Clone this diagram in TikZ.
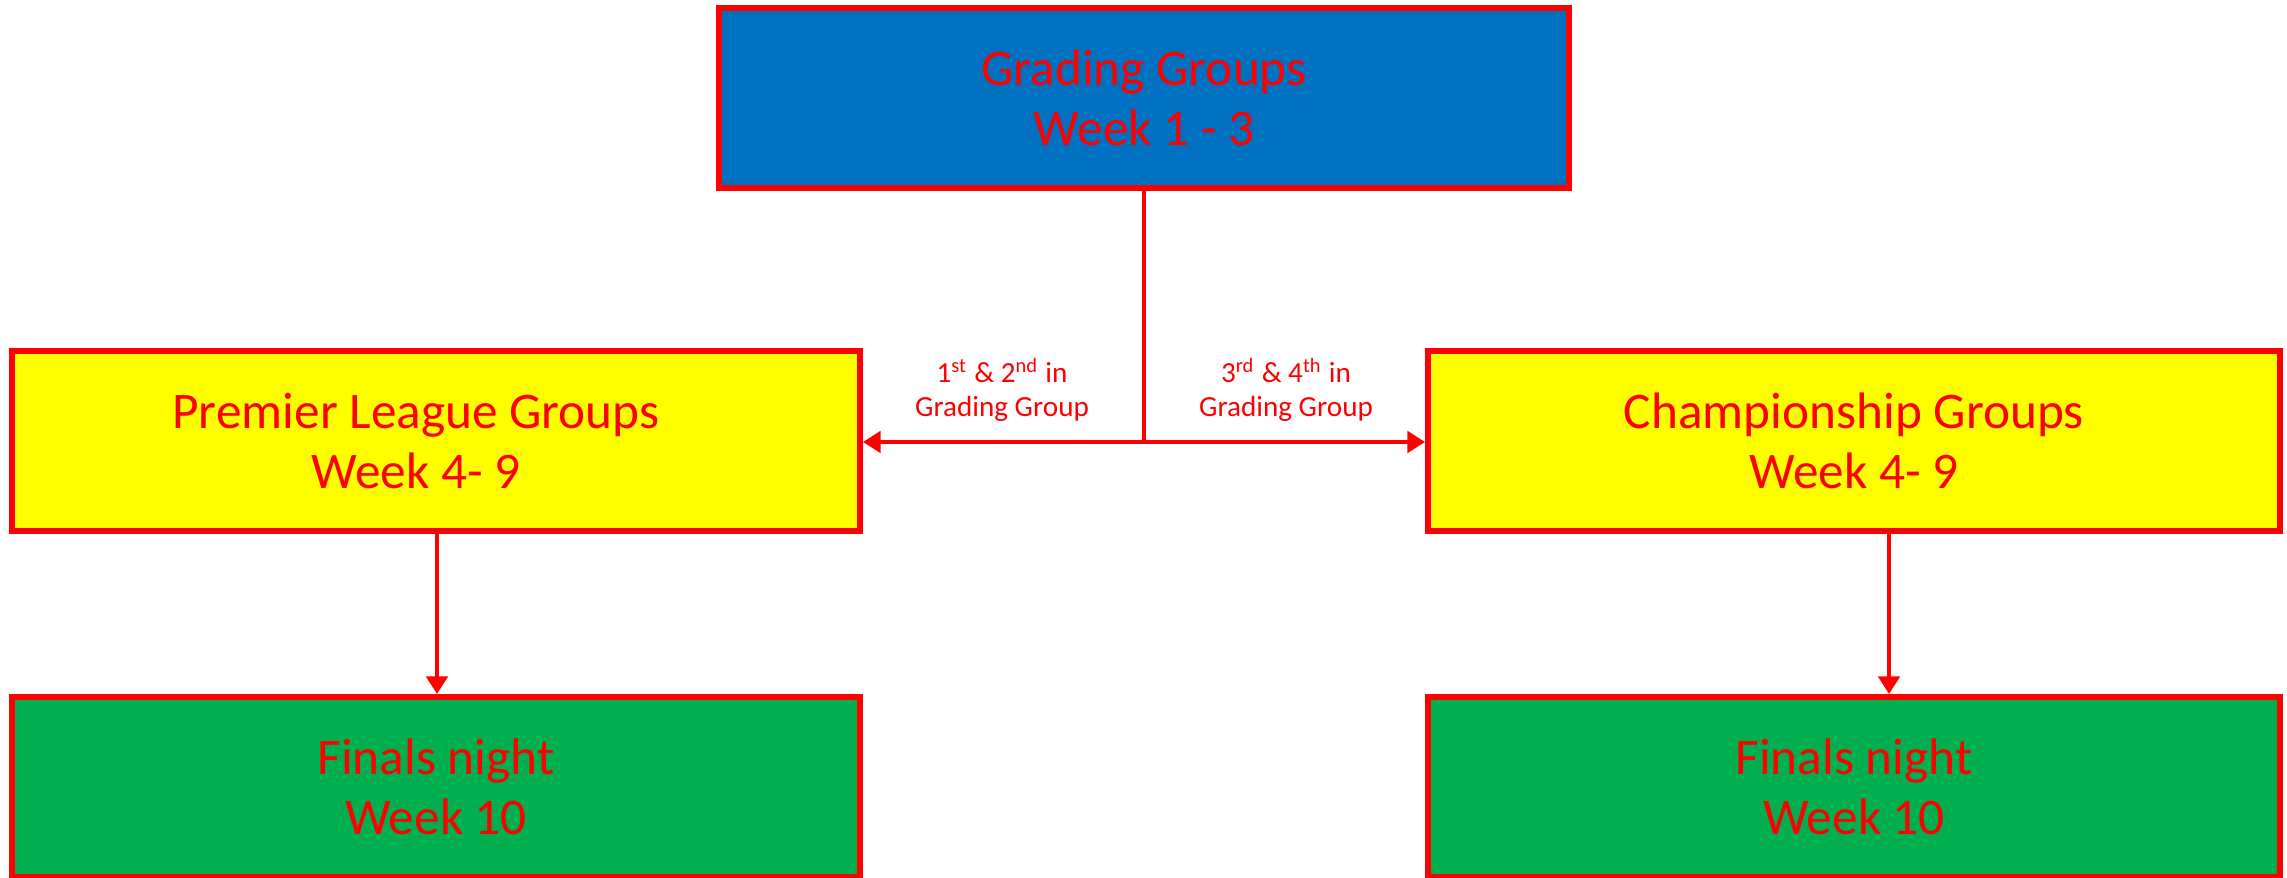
\documentclass[tikz,border=0pt]{standalone}
\usepackage{fontspec}
\setmainfont{Carlito}
\usetikzlibrary{arrows.meta}
\definecolor{gradeblue}{HTML}{0070C0}
\definecolor{leagueyellow}{HTML}{FFFF00}
\definecolor{finalgreen}{HTML}{00B050}
\definecolor{linered}{HTML}{FF0000}
\begin{document}
\begin{tikzpicture}[
    stagebox/.style={draw=linered, line width=1.7pt, minimum width=8.48cm, minimum height=1.8cm,
      align=center, text=linered, font=\fontsize{14.6}{17.2}\selectfont},
    flow/.style={draw=linered, line width=1.4pt, -{Triangle[length=5pt, width=6pt]}},
    tag/.style={text=linered, align=center, inner sep=0pt, font=\fontsize{8.3}{9.6}\selectfont}]
    \useasboundingbox (0,0) rectangle (22.87,8.78);
    \node[stagebox, fill=gradeblue, minimum width=8.5cm] (grading) at (11.44,7.80) {Grading Groups\\Week 1 - 3};
    \node[stagebox, fill=leagueyellow] (premier) at (4.36,4.37) {Premier League Groups\hspace*{0.4cm}\\Week 4- 9\hspace*{0.4cm}};
    \node[stagebox, fill=leagueyellow, minimum width=8.52cm] (champ) at (18.54,4.37) {Championship Groups\\Week 4- 9};
    \node[stagebox, fill=finalgreen] (finalL) at (4.36,0.91) {Finals night\\Week 10};
    \node[stagebox, fill=finalgreen, minimum width=8.52cm] (finalR) at (18.54,0.91) {Finals night\\Week 10};
    \coordinate (split) at (11.44,4.36);
    \draw[draw=linered, line width=1.4pt] (grading.south) -- (split);
    \draw[flow] (split) -- (premier.east |- split);
    \draw[flow] (split) -- (champ.west |- split);
    \draw[flow] (4.37,0 |- premier.south) -- (4.37,0 |- finalL.north);
    \draw[flow] (18.89,0 |- champ.south) -- (18.89,0 |- finalR.north);
    \node[tag, anchor=south] (upper) at (10.02,4.56) {1\textsuperscript{st} \& 2\textsuperscript{nd} in\\Grading Group};
    \node[tag, anchor=south] (lower) at (12.86,4.56) {3\textsuperscript{rd} \& 4\textsuperscript{th} in\\Grading Group};
\end{tikzpicture}
\end{document}
